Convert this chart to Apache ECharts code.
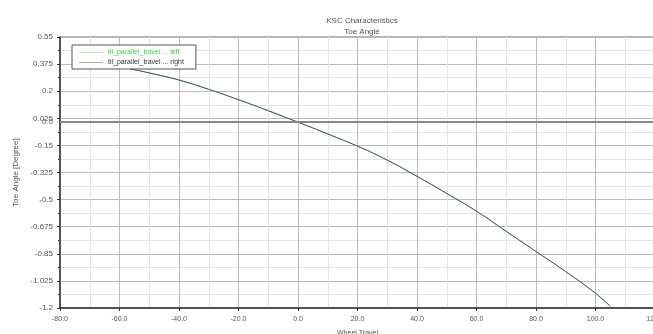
<!DOCTYPE html>
<html>
<head>
<meta charset="utf-8">
<script src="https://cdn.jsdelivr.net/npm/echarts@6/dist/echarts.min.js"></script>
<style>html,body{margin:0;padding:0;background:#fff;}#c{width:653px;height:334px;}</style>
</head>
<body>
<div id="c"></div>
<script>
var wheelTravel = [-65, -60, -50, -40, -30, -20, -10, 0, 10, 20, 30, 40, 50, 60, 70, 80, 90, 100, 105];
var toeLeft  = [0.385, 0.36, 0.318, 0.272, 0.212, 0.145, 0.074, 0.0, -0.076, -0.155, -0.245, -0.350, -0.460, -0.575, -0.705, -0.835, -0.965, -1.105, -1.19];
var toeRight = [0.385, 0.36, 0.318, 0.272, 0.212, 0.145, 0.074, 0.0, -0.076, -0.155, -0.245, -0.350, -0.460, -0.575, -0.705, -0.835, -0.965, -1.105, -1.19];
var seriesNames = ['til_parallel_travel ... left', 'til_parallel_travel ... right'];
var yMin = -1.2, yMax = 0.55, yStep = 0.175;
var xMin = -80, xMax = 120, xStep = 20;

function pairs(xs, ys) { return xs.map(function (x, i) { return [x, ys[i]]; }); }

var chart = echarts.init(document.getElementById('c'), null, {renderer: 'canvas'});
var f = 'Liberation Sans, Arial, sans-serif';
chart.setOption({
  animation: false,
  textStyle: {fontFamily: f},
  title: {
    text: 'KSC Characteristics\nToe Angle',
    left: 357, top: 10, textAlign: 'center',
    textStyle: {fontSize: 8, fontWeight: 'normal', color: '#555', lineHeight: 11, fontFamily: f}
  },
  legend: {
    orient: 'vertical', left: 72, top: 45,
    backgroundColor: '#fff', borderColor: '#555', borderWidth: 1,
    padding: [4, 12, 3, 7], itemGap: 3, itemWidth: 24, itemHeight: 6,
    textStyle: {fontSize: 7, fontFamily: f},
    data: [
      {name: seriesNames[0], icon: 'path://M0,0.5 L24,0.5 L24,1 L0,1 Z', textStyle: {color: '#44cc44'}},
      {name: seriesNames[1], icon: 'path://M0,0.5 L24,0.5 L24,1 L0,1 Z', textStyle: {color: '#333'}}
    ]
  },
  grid: {left: 60, top: 37, width: 595, height: 271, outerBoundsMode: 'none', containLabel: false, show: true, borderColor: '#666', borderWidth: 1},
  xAxis: {
    type: 'value', min: xMin, max: xMax, interval: xStep,
    name: 'Wheel Travel', nameLocation: 'middle', nameGap: 22,
    nameTextStyle: {fontSize: 7, color: '#555', fontFamily: f},
    axisLine: {show: true, onZero: false, lineStyle: {color: '#333', width: 1.5}},
    axisTick: {show: true, length: 3, lineStyle: {color: '#333'}},
    axisLabel: {fontSize: 7, color: '#555', margin: 8, hideOverlap: false, formatter: function (v) { return v.toFixed(1); }},
    splitLine: {show: true, lineStyle: {color: '#bbb', width: 1}},
    minorSplitLine: {show: true, lineStyle: {color: '#e4e4e4', width: 1}},
    minorTick: {show: false, splitNumber: 2}
  },
  yAxis: {
    type: 'value', min: yMin, max: yMax, interval: yStep,
    name: 'Toe Angle [Degree]', nameLocation: 'middle', nameGap: 38,
    nameTextStyle: {fontSize: 8, color: '#555', fontFamily: f},
    axisLine: {show: true, onZero: false, lineStyle: {color: '#333', width: 1.5}},
    axisTick: {show: true, length: 3, lineStyle: {color: '#333'}},
    axisLabel: {fontSize: 8, color: '#555', margin: 7, formatter: function (v) { return String(+v.toFixed(3)); }},
    splitLine: {show: true, lineStyle: {color: '#bbb', width: 1}},
    minorTick: {show: true, splitNumber: 2, length: 2, lineStyle: {color: '#333'}},
    minorSplitLine: {show: true, lineStyle: {color: '#e4e4e4', width: 1}}
  },
  series: [
    {
      name: seriesNames[0], type: 'line', data: pairs(wheelTravel, toeLeft),
      showSymbol: false, smooth: true, lineStyle: {color: '#66dd66', width: 1}, itemStyle: {color: '#66dd66'},
      markLine: {
        silent: true, symbol: 'none',
        lineStyle: {color: '#888', width: 2, type: 'solid'},
        label: {show: true, position: 'start', formatter: '0.0', fontSize: 8, color: '#555', distance: 7},
        data: [{yAxis: 0}]
      }
    },
    {
      name: seriesNames[1], type: 'line', data: pairs(wheelTravel, toeRight),
      showSymbol: false, smooth: true, lineStyle: {color: '#555', width: 1}, itemStyle: {color: '#555'}
    }
  ]
});
</script>
</body>
</html>
